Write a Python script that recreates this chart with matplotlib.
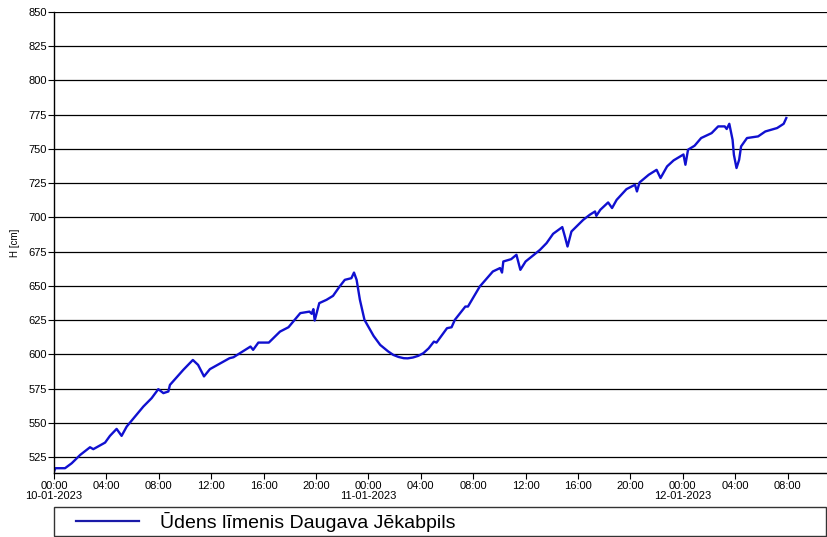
import matplotlib
matplotlib.use("Agg")
import matplotlib.pyplot as plt
from matplotlib.legend_handler import HandlerLine2D

# hours since 10-01-2023 00:00
hours = [0.0, 0.1, 0.84, 1.35, 2.0, 2.75, 3.0, 3.9, 4.27, 4.78, 5.16, 5.55, 6.82, 7.45,
         7.96, 8.35, 8.73, 8.85, 9.87, 10.6, 11.0, 11.45, 11.9, 13.4, 13.7, 15.0, 15.2,
         15.6, 16.4, 17.25, 17.9, 18.8, 19.5, 19.67, 19.8, 19.9, 20.25, 20.8, 21.3, 21.8,
         22.2, 22.7, 22.9, 23.1, 23.35, 23.7, 24.4, 24.9, 25.5, 25.9, 26.3, 26.7, 27.0, 27.4,
         27.8, 28.2, 28.6, 29.0, 29.2, 30.0, 30.35, 30.6, 31.4, 31.6, 32.5, 33.5, 34.05,
         34.2, 34.3, 34.9, 35.3, 35.6, 36.0, 36.6, 37.1, 37.6, 38.1, 38.8, 39.0, 39.2,
         39.5, 40.4, 40.9, 41.3, 41.4, 41.7, 42.3, 42.6, 42.95, 43.7, 44.35, 44.5, 44.7,
         45.4, 46.0, 46.3, 46.8, 47.3, 48.05, 48.2, 48.4, 48.9, 49.4, 50.2, 50.7, 51.2,
         51.35, 51.55, 51.8, 51.9, 52.1, 52.3, 52.45, 52.9, 53.75, 54.3, 55.2, 55.7, 55.9]
level = [514.5, 517.0, 517.0, 520.6, 526.7, 532.3, 530.9, 535.7, 540.6, 545.7, 540.6, 547.4,
         562.0, 568.1, 574.7, 571.8, 573.0, 577.8, 588.8, 596.0, 592.4, 584.0, 589.3, 597.3,
         598.0, 605.8, 603.4, 608.7, 608.7, 616.7, 619.9, 630.2, 631.3, 629.7, 633.1, 624.8,
         637.5, 639.9, 642.8, 649.6, 654.5, 655.7, 659.8, 654.5, 640.0, 625.3, 613.5, 607.0,
         602.3, 599.7, 598.2, 597.3, 597.2, 597.8, 599.0, 601.0, 604.5, 609.4, 608.7, 619.2,
         619.9, 625.3, 635.0, 635.0, 649.6, 660.6, 663.1, 659.8, 667.9, 669.6, 672.8, 661.8,
         667.9, 672.5, 676.4, 681.3, 688.1, 693.0, 686.1, 678.8, 689.8, 698.3, 702.0, 704.4,
         701.2, 705.6, 711.0, 706.9, 712.9, 720.7, 723.9, 719.0, 725.6, 731.2, 734.8, 728.8,
         737.3, 741.7, 746.0, 738.5, 749.5, 752.4, 758.0, 761.6, 766.5, 766.5, 764.6, 768.4,
         756.7, 745.8, 736.1, 742.1, 751.9, 758.0, 759.2, 762.8, 765.3, 768.4, 772.6]

xticks = list(range(0, 57, 4))
xlabels = ["00:00\n10-01-2023", "04:00", "08:00", "12:00", "16:00", "20:00",
           "00:00\n11-01-2023", "04:00", "08:00", "12:00", "16:00", "20:00",
           "00:00\n12-01-2023", "04:00", "08:00"]
yticks = list(range(525, 851, 25))

plt.rcParams['font.family'] = ['Liberation Sans', 'DejaVu Sans']

fig = plt.figure(figsize=(8.27, 5.37), dpi=100)
ax = fig.add_axes([54/827, 1 - 473/537, 773/827, (473 - 12)/537])

line, = ax.plot(hours, level, color='#1010d0', lw=1.7, label='Ūdens līmenis Daugava Jēkabpils')

ax.set_xlim(0, (827 - 54) / 13.1)
ax.set_ylim(513.5, 850)
ax.set_xticks(xticks)
ax.set_xticklabels(xlabels, fontsize=8, linespacing=1.0)
ax.set_yticks(yticks)
ax.tick_params(axis='y', labelsize=8, length=4, width=0.8, pad=1)
ax.tick_params(axis='x', length=4, width=0.8, pad=2)
ax.grid(axis='y', color='black', lw=0.9)
ax.grid(axis='x', visible=False)
for s in ['top', 'right']:
    ax.spines[s].set_visible(False)
ax.spines['left'].set_linewidth(1.0)
ax.spines['bottom'].set_linewidth(1.0)
ax.set_ylabel('H [cm]', fontsize=7, labelpad=6)

leg = fig.legend(handles=[line], loc='center left',
                 bbox_to_anchor=(54/827, 1 - 536/537, 772/827, 29/537),
                 mode='expand', frameon=True, fancybox=False, fontsize=14,
                 handlelength=4.1, borderaxespad=0, borderpad=0.25, handletextpad=1.1,
                 handler_map={line: HandlerLine2D(xpad=0.9)})
leg.get_frame().set_edgecolor('black')
leg.get_frame().set_linewidth(1.0)
leg.get_lines()[0].set_linewidth(1.6)
leg.get_lines()[0].set_color('#1a1aa8')

fig.savefig('out.png', dpi=100)
